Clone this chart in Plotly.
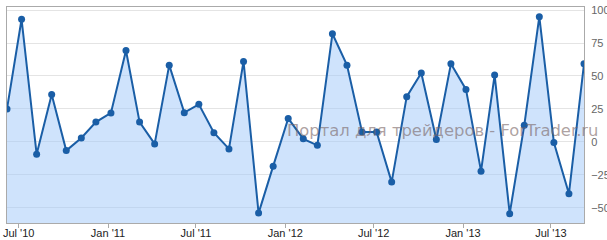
import plotly.graph_objects as go
import pandas as pd

# Data (monthly values)
months = pd.date_range("2010-06-01", periods=40, freq="MS") + pd.Timedelta(days=6)
dates = [d.strftime("%Y-%m-%d") for d in months]
values = [25, 93, -9.3, 36, -6.6, 3, 15, 22, 69.3, 15,
          -1.5, 58.2, 22.2, 28.5, 7, -5.3, 61, -54, -18.4, 17.8,
          2.3, -2.6, 82, 58.2, 7.6, 7.6, -30.5, 34.3, 52.2, 1.8,
          59.2, 39.8, -22.2, 50.7, -54.4, 12.6, 95, -0.5, -39.3, 59.2]

x_tickvals = ["2010-07-01", "2011-01-01", "2011-07-01", "2012-01-01",
              "2012-07-01", "2013-01-01", "2013-07-01"]
x_ticktext = ["Jul '10", "Jan '11", "Jul '11", "Jan '12",
              "Jul '12", "Jan '13", "Jul '13"]
y_tickvals = [-50, -25, 0, 25, 50, 75, 100]
y_min, y_max = -61.5, 102.3

watermark = "Портал для трейдеров - ForTrader.ru"

fig = go.Figure()
# baseline at axis bottom, then area filled down to it
fig.add_trace(go.Scatter(
    x=[dates[0], dates[-1]], y=[y_min, y_min], mode="lines",
    line=dict(width=0, color="rgba(0,0,0,0)"), hoverinfo="skip",
))
fig.add_trace(go.Scatter(
    x=dates, y=values, mode="lines", line=dict(width=0, color="rgba(0,0,0,0)"),
    fill="tonexty", fillcolor="rgba(160,200,250,0.5)", hoverinfo="skip",
))
fig.add_trace(go.Scatter(
    x=dates, y=values,
    mode="lines+markers",
    line=dict(color="#1a5ea6", width=2),
    marker=dict(color="#1a5ea6", size=7),
    hoverinfo="skip",
))

fig.update_layout(
    width=607, height=240,
    margin=dict(l=7, r=23, t=7, b=17),
    paper_bgcolor="white", plot_bgcolor="white",
    showlegend=False,
    font=dict(family="Liberation Sans, Arial", size=11, color="#333"),
)
fig.update_xaxes(
    type="date", automargin=False,
    range=[dates[0], dates[-1]],
    tickvals=x_tickvals, ticktext=x_ticktext,
    ticks="outside", ticklen=4, tickcolor="#aaaaaa",
    ticklabelstandoff=-4,
    showgrid=False, zeroline=False,
    showline=True, linecolor="#aaaaaa", linewidth=1, mirror=True,
    tickfont=dict(size=11, color="#222"),
)
fig.update_yaxes(
    range=[y_min, y_max], automargin=False,
    side="right",
    tickvals=y_tickvals,
    showgrid=True, gridcolor="#e4e4e4", gridwidth=1,
    zeroline=False,
    showline=True, linecolor="#aaaaaa", linewidth=1, mirror=True,
    ticks="", ticklabelstandoff=4,
    tickfont=dict(size=11, color="#666"),
)
fig.add_annotation(
    text=watermark, xref="paper", yref="paper",
    x=1.03, y=0.43, xanchor="right", yanchor="middle",
    showarrow=False,
    font=dict(family="DejaVu Sans", size=16.4, color="rgba(120,100,100,0.6)"),
)
fig.write_html("out.html")
